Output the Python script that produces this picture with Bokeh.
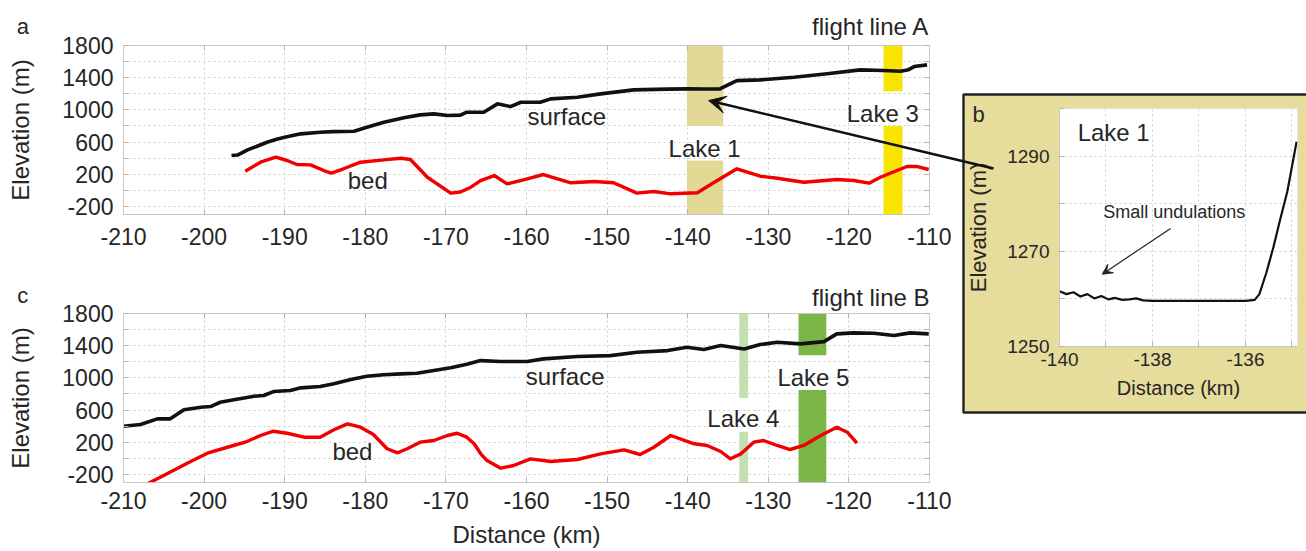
from bokeh.plotting import figure
from bokeh.models import FixedTicker, Label, Arrow, VeeHead, LinearAxis, Spacer, GridBox, Range1d
from bokeh.layouts import column
from bokeh.embed import file_html
from bokeh.resources import INLINE

FONT = "Liberation Sans"
TXT = "#262626"

# ---------------- data ----------------
x_ticks = [-210, -200, -190, -180, -170, -160, -150, -140, -130, -120, -110]
x_tick_labels = ["-210", "-200", "-190", "-180", "-170", "-160", "-150", "-140", "-130", "-120", "-110"]
y_ticks = [-200, 0, 200, 400, 600, 800, 1000, 1200, 1400, 1600, 1800]
y_tick_labels = ["-200", "", "200", "", "600", "", "1000", "", "1400", "", "1800"]

# flight line A
surf_a_x = [-196.6, -195.8, -194.6, -193.5, -192.2, -191.0, -190.0, -188.0, -185.6, -184.0, -181.4,
            -179.8, -177.7, -175.2, -173.2, -171.5, -169.8, -168.2, -167.4, -165.3, -163.6, -162.0,
            -160.7, -158.3, -157.0, -153.7, -150.8, -146.7, -142.5, -140.0, -138.0, -136.0, -135.0,
            -133.9, -131.0, -126.8, -122.7, -118.6, -115.7, -113.6, -112.6, -111.9, -110.3]
surf_a_y = [433, 440, 503, 545, 598, 635, 660, 702, 722, 730, 735,
            784, 846, 901, 938, 950, 930, 935, 971, 971, 1075, 1041,
            1095, 1095, 1137, 1157, 1199, 1249, 1258, 1261, 1260, 1260, 1310,
            1364, 1373, 1405, 1448, 1497, 1489, 1480, 1500, 1538, 1559]
bed_a_x = [-194.9, -193.0, -191.1, -189.7, -188.5, -186.8, -185.0, -184.2, -182.7, -180.6, -177.7,
           -175.6, -174.4, -172.3, -169.4, -168.2, -166.9, -165.7, -164.0, -162.4, -159.9, -157.9,
           -154.5, -151.6, -149.2, -146.3, -144.2, -142.1, -138.8, -136.8, -133.9, -131.0, -128.9,
           -125.6, -121.5, -119.4, -117.5, -116.1, -112.8, -111.5, -110.1]
bed_a_y = [238, 350, 412, 371, 321, 317, 240, 215, 268, 350, 379,
           399, 383, 163, -35, -20, 39, 122, 184, 81, 143, 197,
           94, 110, 94, -35, -14, -43, -30, 94, 268, 176, 151,
           101, 135, 122, 89, 163, 296, 296, 259]

lake_a_left = [-140.1, -115.7]
lake_a_right = [-135.6, -113.35]
lake_a_gap_low = [370, 800]
lake_a_gap_high = [800, 1230]
lake_a_color = ["#e3d996", "#f7e400"]
lake_a_names = ["Lake 1", "Lake 3"]
lake_a_label_x = [-137.9, -115.8]
lake_a_label_y = [520, 954]

# flight line B
surf_b_x = [-210.0, -207.9, -205.8, -204.2, -202.5, -200.4, -199.2, -198.0, -196.3, -193.8, -192.6,
            -191.4, -189.3, -188.0, -185.6, -183.9, -181.8, -179.8, -177.7, -175.6, -173.6, -171.5,
            -169.4, -167.4, -165.7, -163.2, -159.9, -157.9, -153.7, -149.6, -146.3, -142.5, -140.1,
            -138.0, -135.9, -133.0, -131.0, -128.9, -126.0, -123.1, -121.5, -119.4, -116.9, -114.4,
            -112.4, -110.1]
surf_b_y = [399, 420, 491, 491, 603, 635, 644, 697, 727, 772, 781,
            830, 843, 876, 892, 926, 979, 1020, 1038, 1050, 1057, 1091,
            1125, 1170, 1215, 1203, 1203, 1236, 1265, 1277, 1318, 1339, 1380,
            1352, 1402, 1360, 1414, 1443, 1423, 1451, 1547, 1559, 1554, 1526,
            1559, 1547]
bed_b_x = [-207.3, -204.6, -202.1, -199.6, -197.1, -194.7, -193.0, -191.4, -189.7, -187.6, -185.6,
           -183.9, -182.2, -180.6, -179.0, -177.3, -176.0, -174.8, -173.2, -171.5, -169.8, -168.6,
           -167.4, -166.5, -165.7, -164.9, -163.2, -161.6, -159.5, -157.0, -153.7, -150.8, -147.9,
           -145.9, -144.2, -142.1, -139.2, -137.6, -135.9, -134.7, -133.4, -131.8, -130.6, -128.9,
           -127.3, -125.6, -123.5, -121.5, -120.2, -119.0]
bed_b_y = [-330, -192, -60, 64, 138, 209, 284, 337, 312, 263, 263,
           355, 429, 387, 296, 119, 69, 119, 201, 222, 284, 312,
           263, 181, 60, -27, -122, -89, -6, -39, -14, 56, 106,
           48, 138, 284, 181, 160, 85, -6, 56, 201, 222, 160,
           110, 160, 284, 387, 325, 188]

lake_b_left = [-133.6, -126.25]
lake_b_right = [-132.5, -122.8]
lake_b_gap_low = [330, 850]
lake_b_gap_high = [750, 1280]
lake_b_color = ["#c4e0b0", "#7ab648"]
lake_b_names = ["Lake 4", "Lake 5"]
lake_b_label_x = [-133.1, -124.4]
lake_b_label_y = [495, 1004]

# inset (Lake 1 surface)
inset_x = [-140.0, -139.85, -139.7, -139.55, -139.4, -139.25, -139.1, -138.95, -138.8, -138.65,
           -138.5, -138.35, -138.2, -138.0, -137.0, -136.0, -135.8, -135.7, -135.55, -135.4,
           -135.25, -135.1, -134.9]
inset_y = [1261.6, 1261.0, 1261.4, 1260.5, 1261.0, 1260.1, 1260.6, 1259.9, 1260.2, 1259.8,
           1259.9, 1260.1, 1259.7, 1259.6, 1259.6, 1259.6, 1259.8, 1261.0, 1265.5, 1270.8,
           1276.8, 1282.5, 1293.0]
inset_x_ticks = [-140, -139, -138, -137, -136, -135]
inset_x_labels = ["-140", "", "-138", "", "-136", ""]
inset_y_ticks = [1250, 1260, 1270, 1280, 1290, 1300]
inset_y_labels = ["1250", "", "1270", "", "1290", ""]

# ---------------- page geometry (pixels) ----------------
W, H = 1306, 551
LEFT_W = 962                      # width of the column holding panels a and c
A_L, A_R, A_T, A_B = 123, 929, 45, 214
A_H = 262                         # canvas height of panel a
C_T, C_B = 313, 482
B_X0, B_Y0, B_W, B_H = 962, 93, 344, 320
B_L, B_R, B_T, B_B = 1059, 1297, 108, 346
XR_MAIN = (-210, -110)
YR_MAIN = (-300, 1800)
XR_INSET = (-140, -134.88)
YR_INSET = (1250, 1300)


def style(p, xt, xl, yt, yl, size, boxed=True):
    p.xaxis.ticker = FixedTicker(ticks=xt)
    p.yaxis.ticker = FixedTicker(ticks=yt)
    p.xaxis.major_label_overrides = dict(zip(xt, xl))
    p.yaxis.major_label_overrides = dict(zip(yt, yl))
    for ax in list(p.xaxis) + list(p.yaxis):
        ax.axis_line_color = "#c8c8c8"
        ax.major_tick_line_color = "#b4b4b4"
        ax.major_tick_in = 5
        ax.major_tick_out = 0
        ax.minor_tick_line_color = None
        ax.major_label_text_font = FONT
        ax.major_label_text_font_size = f"{size}px"
        ax.major_label_text_color = TXT
        ax.axis_label_text_font = FONT
        ax.axis_label_text_font_style = "normal"
        ax.axis_label_text_color = TXT
    p.grid.grid_line_color = "#cfcfcf"
    p.grid.grid_line_dash = "2 3"
    p.outline_line_color = "#c8c8c8"
    if boxed:
        for side, t in (("right", yt), ("above", xt)):
            ax = LinearAxis(ticker=FixedTicker(ticks=t),
                            major_label_overrides={v: "" for v in t},
                            axis_line_color="#c8c8c8", major_tick_line_color="#b4b4b4",
                            major_tick_in=5, major_tick_out=0, minor_tick_line_color=None,
                            major_label_standoff=0)
            p.add_layout(ax, side)


def text(p, x, y, s, size, align="center", **kw):
    p.add_layout(Label(x=x, y=y, text=s, text_font=FONT, text_font_size=f"{size}px",
                       text_color=TXT, text_align=align, text_baseline="middle", **kw))


def main_panel(height, top, bottom, surf_x, surf_y, bed_x, bed_y,
               left, right, gap_low, gap_high, colors, x_standoff):
    p = figure(width=LEFT_W, height=height, x_range=XR_MAIN, y_range=YR_MAIN,
               output_backend="svg", toolbar_location=None,
               min_border_left=A_L, min_border_right=LEFT_W - A_R,
               min_border_top=top, min_border_bottom=bottom)
    style(p, x_ticks, x_tick_labels, y_ticks, y_tick_labels, 23)
    yax = p.left[0]
    yax.axis_label = "Elevation (m)"
    yax.axis_label_text_font_size = "24px"
    yax.axis_label_standoff = 25
    yax.major_label_standoff = 10
    p.below[0].major_label_standoff = x_standoff
    lo, hi = YR_MAIN
    p.quad(left=left, right=right, bottom=gap_high, top=[hi] * len(left),
           fill_color=colors, line_color=None)
    p.quad(left=left, right=right, bottom=[lo] * len(left), top=gap_low,
           fill_color=colors, line_color=None)
    p.line(surf_x, surf_y, line_color="#111111", line_width=3.6, line_join="round")
    p.line(bed_x, bed_y, line_color="#f00000", line_width=3.4, line_join="round")
    return p


# ---------------- panel a ----------------
pa = main_panel(A_H, A_T, A_H - A_B, surf_a_x, surf_a_y, bed_a_x, bed_a_y,
                lake_a_left, lake_a_right, lake_a_gap_low, lake_a_gap_high, lake_a_color, 13)
text(pa, -155.0, 917, "surface", 24)
text(pa, -179.7, 122, "bed", 24)
for nm, lx, ly in zip(lake_a_names, lake_a_label_x, lake_a_label_y):
    text(pa, lx, ly, nm, 24)

# ---------------- panel c ----------------
C_H = H - A_H
pc = main_panel(C_H, C_T - A_H, H - C_B, surf_b_x, surf_b_y, bed_b_x, bed_b_y,
                lake_b_left, lake_b_right, lake_b_gap_low, lake_b_gap_high, lake_b_color, 9)
xax = pc.below[0]
xax.axis_label = "Distance (km)"
xax.axis_label_text_font_size = "24px"
xax.axis_label_standoff = 9
text(pc, -155.2, 1017, "surface", 24)
text(pc, -181.6, 85, "bed", 24)
for nm, lx, ly in zip(lake_b_names, lake_b_label_x, lake_b_label_y):
    text(pc, lx, ly, nm, 24)

# ---------------- panel b (inset) ----------------
pb = figure(width=B_W, height=B_H, x_range=XR_INSET, y_range=YR_INSET,
            output_backend="svg", toolbar_location=None,
            min_border_left=B_L - B_X0, min_border_right=B_X0 + B_W - B_R,
            min_border_top=B_T - B_Y0, min_border_bottom=B_Y0 + B_H - B_B)
style(pb, inset_x_ticks, inset_x_labels, inset_y_ticks, inset_y_labels, 19, boxed=False)
pb.border_fill_color = "#e6dc9c"
pb.outline_line_color = "#e0e0e0"
pb.xaxis.axis_label = "Distance (km)"
pb.yaxis.axis_label = "Elevation (m)"
pb.xaxis.axis_label_text_font_size = "20px"
pb.yaxis.axis_label_text_font_size = "22px"
pb.yaxis.major_label_standoff = 10
pb.yaxis.axis_label_standoff = 13
pb.xaxis.major_label_standoff = 6
pb.xaxis.axis_label_standoff = 8
pb.line(inset_x, inset_y, line_color="#111111", line_width=2.2)
text(pb, -139.61, 1295, "Lake 1", 24, align="left")
text(pb, -137.53, 1278.3, "Small undulations", 18)
pb.add_layout(Arrow(end=VeeHead(size=10, fill_color="#222222", line_color="#222222"),
                    x_start=-137.61, y_start=1274.8, x_end=-139.08, y_end=1265.2,
                    line_width=1.2, line_color="#222222"))


# ---------------- transparent overlay over the whole page ----------------
def ext_x(r, p0, p1):
    s = (r[1] - r[0]) / (p1 - p0)
    return Range1d(r[0] - p0 * s, r[1] + (W - p1) * s)


def ext_y(r, top_px, bot_px):
    s = (r[1] - r[0]) / (bot_px - top_px)
    return Range1d(r[0] - (H - bot_px) * s, r[1] + top_px * s)


ov = figure(width=W, height=H, x_range=ext_x(XR_MAIN, A_L, A_R), y_range=ext_y(YR_MAIN, A_T, A_B),
            x_axis_type=None, y_axis_type=None, min_border=0,
            output_backend="svg", toolbar_location=None,
            background_fill_color=None, border_fill_color=None, outline_line_color=None)
ov.extra_y_ranges = {"yc": ext_y(YR_MAIN, C_T, C_B), "yb": ext_y(YR_INSET, B_T, B_B),
                     "py": Range1d(H, 0)}
ov.extra_x_ranges = {"xb": ext_x(XR_INSET, B_L, B_R), "px": Range1d(0, W)}

# frame of inset b (left, top, bottom edges visible)
ov.quad(left=[B_X0 + 1], right=[W + 10], top=[B_Y0 + 1], bottom=[B_Y0 + B_H - 1],
        fill_color=None, line_color="#222222", line_width=2.4,
        x_range_name="px", y_range_name="py")

# panel letters and titles
text(ov, -222.5, 2030, "a", 22)
text(ov, -110, 2035, "flight line A", 24, align="right")
text(ov, -222.5, 2023, "c", 22, y_range_name="yc")
text(ov, -110, 1998, "flight line B", 24, align="right", y_range_name="yc")
text(ov, -141.74, 1298.8, "b", 22, x_range_name="xb", y_range_name="yb")

# arrow from inset b to Lake 1 on flight line A
ov.add_layout(Arrow(end=VeeHead(size=17, fill_color="#111111", line_color="#111111"),
                    x_start=-102.06, y_start=272, x_end=-137.4, y_end=1116,
                    line_width=2.6, line_color="#111111"))

left_col = column(pa, pc)
right_col = column(Spacer(width=B_W, height=B_Y0), pb)
layout = GridBox(children=[(left_col, 0, 0), (right_col, 0, 1), (ov, 0, 0, 1, 2)],
                 rows=[f"{H}px"], cols=[f"{LEFT_W}px", f"{B_W}px"], spacing=0)
open("out.html", "w").write(file_html(layout, INLINE))
